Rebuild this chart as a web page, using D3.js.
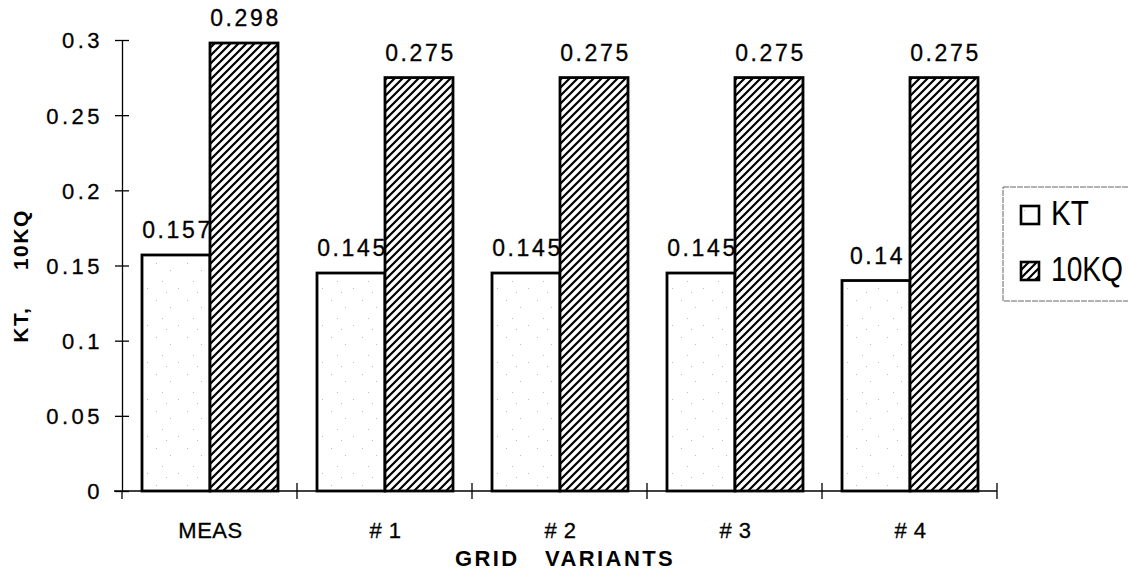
<!DOCTYPE html>
<html>
<head>
<meta charset="utf-8">
<script src="https://cdn.jsdelivr.net/npm/d3@7"></script>
<style>
  body { margin: 0; background: #fff; }
  svg { display: block; font-family: "Liberation Sans", Arial, sans-serif; }
  .pre { white-space: pre; }
</style>
</head>
<body>
<div id="chart"></div>
<script>
// chart values
const categories = ['MEAS', '# 1', '# 2', '# 3', '# 4'];
const seriesNames = ['KT', '10KQ'];
const ktValues = [0.157, 0.145, 0.145, 0.145, 0.14];
const kqValues = [0.298, 0.275, 0.275, 0.275, 0.275];
const yTickValues = [0, 0.05, 0.1, 0.15, 0.2, 0.25, 0.3];
const yTickLabels = ['0', '0.05', '0.1', '0.15', '0.2', '0.25', '0.3'];

const W = 1128;
const H = 585;
const plot = { left: 122, right: 997, top: 40, bottom: 491 };

const svg = d3.select('#chart').append('svg')
  .attr('width', W)
  .attr('height', H);

svg.append('rect').attr('width', W).attr('height', H).attr('fill', '#fff');

// patterns for the two series
const defs = svg.append('defs');
const hatch = defs.append('pattern')
  .attr('id', 'hatch')
  .attr('patternUnits', 'userSpaceOnUse')
  .attr('width', 8)
  .attr('height', 8);
hatch.append('rect').attr('width', 8).attr('height', 8).attr('fill', '#fff');
hatch.append('path')
  .attr('d', 'M-2,2 l4,-4 M0,8 l8,-8 M6,10 l4,-4')
  .attr('stroke', '#000')
  .attr('stroke-width', 2.2);

// faint speckle like the scanned light fill
const speck = defs.append('pattern')
  .attr('id', 'speck')
  .attr('patternUnits', 'userSpaceOnUse')
  .attr('width', 31)
  .attr('height', 37);
speck.append('rect').attr('width', 31).attr('height', 37).attr('fill', '#fff');
[[3, 4], [17, 11], [9, 22], [25, 29], [13, 33]].forEach(([px, py]) => {
  speck.append('rect').attr('x', px).attr('y', py).attr('width', 1).attr('height', 1).attr('fill', '#bbb');
});

const fills = { 'KT': 'url(#speck)', '10KQ': 'url(#hatch)' };

// scales
const x = d3.scaleBand().domain(categories).range([plot.left, plot.right]);
const x1 = d3.scaleBand().domain(seriesNames).range([20, 156]);
const y = d3.scaleLinear().domain([0, 0.3]).range([plot.bottom, plot.top]);

const rows = categories.map((c, i) => ({
  cat: c,
  values: [
    { key: 'KT', value: ktValues[i] },
    { key: '10KQ', value: kqValues[i] },
  ],
}));

// y axis
const yAxis = svg.append('g')
  .attr('transform', `translate(${plot.left},0)`)
  .call(d3.axisLeft(y)
    .tickValues(yTickValues)
    .tickFormat((d, i) => yTickLabels[i])
    .tickSizeOuter(0));
yAxis.select('.domain').attr('stroke', '#000').attr('stroke-width', 1.3);
yAxis.selectAll('.tick line').attr('x1', -7).attr('x2', 7).attr('stroke', '#000').attr('stroke-width', 1.3);
yAxis.selectAll('.tick text')
  .attr('x', -19)
  .attr('dy', '0.36em')
  .attr('font-size', 22)
  .attr('letter-spacing', 3.5)
  .attr('fill', '#000')
  .attr('stroke', '#000')
  .attr('stroke-width', 0.3)
  .attr('font-family', '"Liberation Sans", Arial, sans-serif');

// x axis line and boundary ticks
const xAxis = svg.append('g');
xAxis.append('line')
  .attr('x1', plot.left - 8).attr('x2', plot.right)
  .attr('y1', plot.bottom).attr('y2', plot.bottom)
  .attr('stroke', '#000').attr('stroke-width', 1.3);
const bounds = categories.map(c => x(c)).concat([x.range()[1]]);
xAxis.selectAll('line.btick')
  .data(bounds)
  .join('line')
  .attr('class', 'btick')
  .attr('x1', d => d).attr('x2', d => d)
  .attr('y1', (d, i) => (i === 0 ? plot.bottom : plot.bottom - 8))
  .attr('y2', plot.bottom + 8)
  .attr('stroke', '#000').attr('stroke-width', 1.3);
xAxis.selectAll('text.cat')
  .data(categories)
  .join('text')
  .attr('class', 'cat')
  .attr('x', d => x(d) + x.bandwidth() / 2 + 1)
  .attr('y', 538)
  .attr('text-anchor', 'middle')
  .attr('font-size', 22)
  .attr('letter-spacing', 0.5)
  .attr('fill', '#000')
  .attr('stroke', '#000')
  .attr('stroke-width', 0.3)
  .text(d => d);

// bars
const groups = svg.append('g').selectAll('g.grp')
  .data(rows)
  .join('g')
  .attr('class', 'grp')
  .attr('transform', d => `translate(${x(d.cat)},0)`);

groups.selectAll('rect')
  .data(d => d.values)
  .join('rect')
  .attr('x', d => x1(d.key))
  .attr('y', d => y(d.value))
  .attr('width', x1.bandwidth())
  .attr('height', d => y(0) - y(d.value))
  .attr('fill', d => fills[d.key])
  .attr('stroke', '#000')
  .attr('stroke-width', 2.8);

// value labels
groups.selectAll('text.val')
  .data(d => d.values)
  .join('text')
  .attr('class', 'val')
  .attr('x', d => x1(d.key) + x1.bandwidth() / 2 + 1.5)
  .attr('y', d => y(d.value) - 17)
  .attr('text-anchor', 'middle')
  .attr('font-size', 23)
  .attr('letter-spacing', 2.6)
  .attr('fill', '#000')
  .attr('stroke', '#000')
  .attr('stroke-width', 0.3)
  .text(d => String(d.value));

// axis titles
svg.append('text')
  .attr('class', 'pre')
  .attr('transform', 'translate(28,276) rotate(-90)')
  .attr('text-anchor', 'middle')
  .attr('font-size', 21)
  .attr('font-weight', 'bold')
  .attr('letter-spacing', 1.5)
  .text('KT,     10KQ');

svg.append('text')
  .attr('class', 'pre')
  .attr('x', 565)
  .attr('y', 566)
  .attr('text-anchor', 'middle')
  .attr('font-size', 22)
  .attr('font-weight', 'bold')
  .attr('letter-spacing', 2.4)
  .text('GRID   VARIANTS');

// legend
const legend = svg.append('g');
legend.append('rect')
  .attr('x', 1003).attr('y', 187)
  .attr('width', 160).attr('height', 114)
  .attr('fill', '#fff')
  .attr('stroke', '#666').attr('stroke-width', 1)
  .attr('stroke-dasharray', '6,1');
const items = legend.selectAll('g.item')
  .data(seriesNames)
  .join('g')
  .attr('class', 'item')
  .attr('transform', (d, i) => `translate(1021,${206 + i * 56})`);
items.append('rect')
  .attr('width', 18).attr('height', 18)
  .attr('fill', d => fills[d])
  .attr('stroke', '#000').attr('stroke-width', 2.6);
items.append('text')
  .attr('x', 30)
  .attr('y', 19)
  .attr('font-size', 35)
  .attr('textLength', d => (d === 'KT' ? 38 : 72))
  .attr('lengthAdjust', 'spacingAndGlyphs')
  .attr('fill', '#000')
  .text(d => d);
</script>
</body>
</html>
